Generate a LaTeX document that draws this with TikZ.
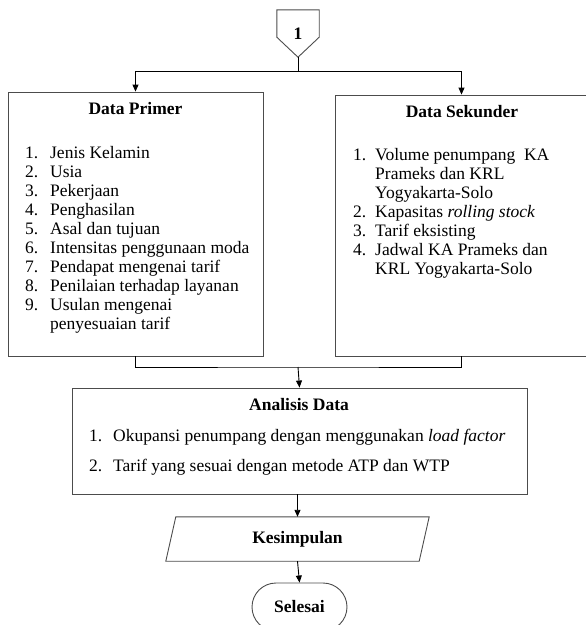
\documentclass[tikz,border=0pt]{standalone}
\usepackage{fontspec}
\setmainfont{Liberation Serif}
\usetikzlibrary{arrows.meta,shapes.misc}
\newcommand{\bodyfont}{\fontsize{17.5}{19}\selectfont}
\begin{document}
\begin{tikzpicture}[x=1pt,y=-1pt,
  boxline/.style={draw=black!70, line width=0.9pt},
  framebox/.style={boxline, rectangle, inner sep=0pt},
  ghost/.style={rectangle, inner sep=0pt, font=\bodyfont\bfseries},
  titletext/.style={anchor=base, inner sep=0pt, font=\bodyfont\bfseries},
  listtext/.style={anchor=base west, inner sep=0pt, font=\bodyfont},
  conn/.style={draw=black, line width=0.9pt},
  arr/.style={conn, -{Triangle[length=7pt,width=6pt]}}
]
\useasboundingbox (0,0) rectangle (586,625);

% off-page connector
\node[ghost, minimum width=42pt, minimum height=47pt] (c1) at (298,33.5) {1};
\draw[boxline] (c1.north west) -- (c1.north east) -- ([yshift=20pt]c1.south east)
  -- (c1.south) -- ([yshift=20pt]c1.south west) -- cycle;

% boxes
\node[framebox, minimum width=255pt, minimum height=264pt] (primer) at (135.5,224) {};
\node[framebox, minimum width=253pt, minimum height=261pt] (sekunder) at (461.5,225.5) {};
\node[framebox, minimum width=455pt, minimum height=106pt] (analisis) at (299.5,441) {};
\node[ghost, minimum width=253pt, minimum height=44pt] (kes) at (297.5,539) {Kesimpulan};
\draw[boxline] ([xshift=5pt]kes.north west) -- ([xshift=5pt]kes.north east)
  -- ([xshift=-5pt]kes.south east) -- ([xshift=-5pt]kes.south west) -- cycle;
\node[boxline, rounded rectangle, inner sep=0pt, minimum width=95pt, minimum height=48pt,
  font=\bodyfont\bfseries] (selesai) at (299.5,607) {Selesai};

% titles
\node[titletext] (tprimer) at (135.5,114) {Data Primer};
\node[titletext] (tsekunder) at (462,117) {Data Sekunder};
\node[titletext] (tanalisis) at (299,410) {Analisis Data};

% lists
\node[listtext] (lprimer) at (25,158) {\begin{tabular}[t]{@{}p{25pt}@{}l@{}}
1. & Jenis Kelamin\\
2. & Usia\\
3. & Pekerjaan\\
4. & Penghasilan\\
5. & Asal dan tujuan\\
6. & Intensitas penggunaan moda\\
7. & Pendapat mengenai tarif\\
8. & Penilaian terhadap layanan\\
9. & Usulan mengenai\\
   & penyesuaian tarif
\end{tabular}};
\node[listtext] (lsekunder) at (353,160) {\begin{tabular}[t]{@{}p{22pt}@{}l@{}}
1. & Volume penumpang\ \ KA\\
   & Prameks dan KRL\\
   & Yogyakarta-Solo\\
2. & Kapasitas \textit{rolling stock}\\
3. & Tarif eksisting\\
4. & Jadwal KA Prameks dan\\
   & KRL Yogyakarta-Solo
\end{tabular}};
\node[listtext] (lanalisis) at (89,441.5) {\begin{tabular}[t]{@{}p{24pt}@{}l@{}}
1. & Okupansi penumpang dengan menggunakan \textit{load factor}\\[11pt]
2. & Tarif yang sesuai dengan metode ATP dan WTP
\end{tabular}};

% connectors
\coordinate (j1) at (298,71);
\coordinate (j2) at (298,367);
\draw[conn] (c1.south) -- (j1);
\draw[arr] (j1) -| (primer.north);
\draw[arr] (j1) -| (sekunder.north);
\draw[conn] (primer.south) |- (j2) -| (sekunder.south);
\draw[arr] (j2) -- (analisis.north);
\draw[arr] (analisis.south -| kes.north) -- (kes.north);
\draw[arr] (kes.south) -- (selesai.north);
\end{tikzpicture}
\end{document}
